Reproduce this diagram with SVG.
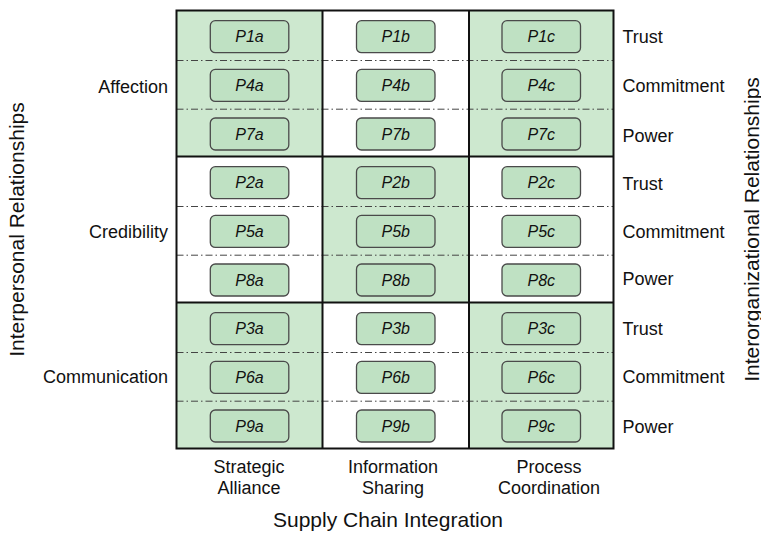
<svg xmlns="http://www.w3.org/2000/svg" width="761" height="535" viewBox="0 0 761 535">
<style>
text{font-family:"Liberation Sans",Arial,sans-serif;fill:#111}
.cell{fill:#cde8cf;stroke:none}
.grid{fill:none;stroke:#111;stroke-width:2}
.dd{stroke:#444;stroke-width:1;stroke-dasharray:7 3 1.5 3;fill:none}
.box rect{fill:#bfe1c3;stroke:#4a4a4a;stroke-width:1.3}
.box text{font-size:16px;font-style:italic;text-anchor:middle}
.lbl{font-size:18px}
.ax{font-size:21px;text-anchor:middle}
</style>
<rect width="761" height="535" fill="#fff"/>
<g id="cells">
<rect class="cell" x="176.5" y="10.5" width="146" height="146"/>
<rect class="cell" x="469" y="10.5" width="144.5" height="146"/>
<rect class="cell" x="322.5" y="156.5" width="146.5" height="146"/>
<rect class="cell" x="176.5" y="302.5" width="146" height="146"/>
<rect class="cell" x="469" y="302.5" width="144.5" height="146"/>
</g>
<g id="dividers">
<path class="dd" d="M176.5 60.5H613.5M176.5 109.2H613.5M176.5 206.5H613.5M176.5 255.2H613.5M176.5 352.5H613.5M176.5 401.2H613.5"/>
<path class="grid" d="M176.5 10.5H613.5V448.5H176.5Z M322.5 10.5V448.5 M469 10.5V448.5 M176.5 156.5H613.5 M176.5 302.5H613.5"/>
</g>
<g id="P1a" class="box"><rect x="210.3" y="20.7" width="78.5" height="32" rx="5"/><text x="249.5" y="42.4">P1a</text></g>
<g id="P1b" class="box"><rect x="356.5" y="20.7" width="78.5" height="32" rx="5"/><text x="395.75" y="42.4">P1b</text></g>
<g id="P1c" class="box"><rect x="502" y="20.7" width="78.5" height="32" rx="5"/><text x="541.25" y="42.4">P1c</text></g>
<g id="P4a" class="box"><rect x="210.3" y="69.4" width="78.5" height="32" rx="5"/><text x="249.5" y="91.1">P4a</text></g>
<g id="P4b" class="box"><rect x="356.5" y="69.4" width="78.5" height="32" rx="5"/><text x="395.75" y="91.1">P4b</text></g>
<g id="P4c" class="box"><rect x="502" y="69.4" width="78.5" height="32" rx="5"/><text x="541.25" y="91.1">P4c</text></g>
<g id="P7a" class="box"><rect x="210.3" y="118" width="78.5" height="32" rx="5"/><text x="249.5" y="139.7">P7a</text></g>
<g id="P7b" class="box"><rect x="356.5" y="118" width="78.5" height="32" rx="5"/><text x="395.75" y="139.7">P7b</text></g>
<g id="P7c" class="box"><rect x="502" y="118" width="78.5" height="32" rx="5"/><text x="541.25" y="139.7">P7c</text></g>
<g id="P2a" class="box"><rect x="210.3" y="166.7" width="78.5" height="32" rx="5"/><text x="249.5" y="188.4">P2a</text></g>
<g id="P2b" class="box"><rect x="356.5" y="166.7" width="78.5" height="32" rx="5"/><text x="395.75" y="188.4">P2b</text></g>
<g id="P2c" class="box"><rect x="502" y="166.7" width="78.5" height="32" rx="5"/><text x="541.25" y="188.4">P2c</text></g>
<g id="P5a" class="box"><rect x="210.3" y="215.4" width="78.5" height="32" rx="5"/><text x="249.5" y="237.1">P5a</text></g>
<g id="P5b" class="box"><rect x="356.5" y="215.4" width="78.5" height="32" rx="5"/><text x="395.75" y="237.1">P5b</text></g>
<g id="P5c" class="box"><rect x="502" y="215.4" width="78.5" height="32" rx="5"/><text x="541.25" y="237.1">P5c</text></g>
<g id="P8a" class="box"><rect x="210.3" y="264" width="78.5" height="32" rx="5"/><text x="249.5" y="285.7">P8a</text></g>
<g id="P8b" class="box"><rect x="356.5" y="264" width="78.5" height="32" rx="5"/><text x="395.75" y="285.7">P8b</text></g>
<g id="P8c" class="box"><rect x="502" y="264" width="78.5" height="32" rx="5"/><text x="541.25" y="285.7">P8c</text></g>
<g id="P3a" class="box"><rect x="210.3" y="312.7" width="78.5" height="32" rx="5"/><text x="249.5" y="334.4">P3a</text></g>
<g id="P3b" class="box"><rect x="356.5" y="312.7" width="78.5" height="32" rx="5"/><text x="395.75" y="334.4">P3b</text></g>
<g id="P3c" class="box"><rect x="502" y="312.7" width="78.5" height="32" rx="5"/><text x="541.25" y="334.4">P3c</text></g>
<g id="P6a" class="box"><rect x="210.3" y="361.4" width="78.5" height="32" rx="5"/><text x="249.5" y="383.1">P6a</text></g>
<g id="P6b" class="box"><rect x="356.5" y="361.4" width="78.5" height="32" rx="5"/><text x="395.75" y="383.1">P6b</text></g>
<g id="P6c" class="box"><rect x="502" y="361.4" width="78.5" height="32" rx="5"/><text x="541.25" y="383.1">P6c</text></g>
<g id="P9a" class="box"><rect x="210.3" y="410" width="78.5" height="32" rx="5"/><text x="249.5" y="431.7">P9a</text></g>
<g id="P9b" class="box"><rect x="356.5" y="410" width="78.5" height="32" rx="5"/><text x="395.75" y="431.7">P9b</text></g>
<g id="P9c" class="box"><rect x="502" y="410" width="78.5" height="32" rx="5"/><text x="541.25" y="431.7">P9c</text></g>
<g id="row-labels" class="lbl" text-anchor="end">
<text x="168" y="92.5">Affection</text>
<text x="168" y="237.5">Credibility</text>
<text x="168" y="383">Communication</text>
</g>
<g id="org-labels" class="lbl">
<text x="622.5" y="42.5">Trust</text>
<text x="622.5" y="92">Commitment</text>
<text x="622.5" y="141.5">Power</text>
<text x="622.5" y="190">Trust</text>
<text x="622.5" y="237.5">Commitment</text>
<text x="622.5" y="285">Power</text>
<text x="622.5" y="335">Trust</text>
<text x="622.5" y="383">Commitment</text>
<text x="622.5" y="433">Power</text>
</g>
<g id="col-labels" class="lbl" text-anchor="middle">
<text x="249" y="472.5">Strategic</text>
<text x="249" y="493.5">Alliance</text>
<text x="393" y="472.5">Information</text>
<text x="393" y="493.5">Sharing</text>
<text x="549" y="472.5">Process</text>
<text x="549" y="493.5">Coordination</text>
</g>
<g id="axis-titles">
<text class="ax" x="388" y="527">Supply Chain Integration</text>
<text class="ax" transform="translate(24 229.5) rotate(-90)">Interpersonal Relationships</text>
<text class="ax" transform="translate(759 229.5) rotate(-90)">Interorganizational Relationships</text>
</g>
</svg>
